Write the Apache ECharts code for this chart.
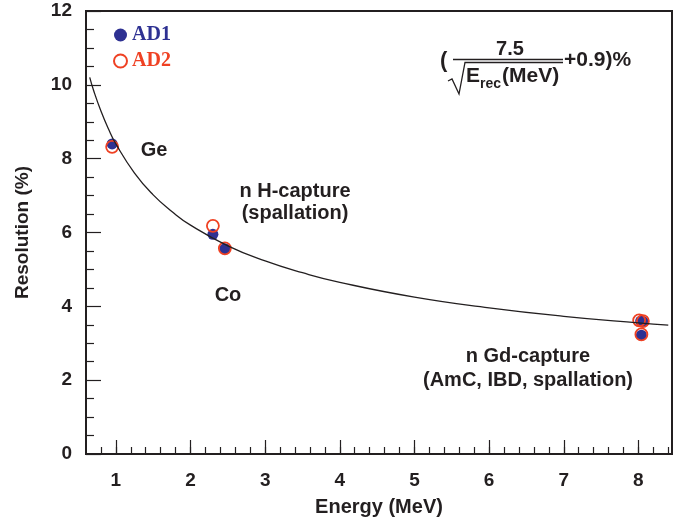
<!DOCTYPE html>
<html>
<head>
<meta charset="utf-8">
<script src="https://cdn.jsdelivr.net/npm/echarts@6/dist/echarts.min.js"></script>
<style>
  html, body { margin: 0; padding: 0; background: #fff; }
  #chart { width: 680px; height: 523px; }
</style>
</head>
<body>
<div id="chart"></div>
<script>
const ad1Energy = [0.95, 2.30, 2.46, 8.03, 8.06, 8.04];
const ad1Res = [8.40, 5.95, 5.56, 3.60, 3.59, 3.22];
const ad2Energy = [0.95, 2.30, 2.46, 8.01, 8.06, 8.04];
const ad2Res = [8.32, 6.18, 5.57, 3.62, 3.60, 3.24];

// fitted curve, sampled along the drawn line
const fitEnergy = [0.65, 0.7, 0.8, 0.9, 1.0, 1.25, 1.5, 1.75, 2.0, 2.5, 3.0, 3.5, 4.0, 5.0, 6.0, 7.0, 8.0, 8.4];
const fitRes = [10.20, 9.86, 9.29, 8.81, 8.40, 7.61, 7.02, 6.57, 6.20, 5.64, 5.23, 4.91, 4.65, 4.25, 3.96, 3.73, 3.55, 3.49];

const xTickLabels = [1, 2, 3, 4, 5, 6, 7, 8];
const yTickLabels = [0, 2, 4, 6, 8, 10, 12];

const blue = '#2e3192';
const red = '#ef4123';
const ink = '#231f20';
const sans = '"Liberation Sans", Arial, sans-serif';
const serif = '"Liberation Serif", "Times New Roman", serif';

const xMinor = [];
for (let v = 0.8; v < 8.45; v += 0.2) xMinor.push(+v.toFixed(1));

const pairs = (xs, ys) => xs.map((x, i) => [x, ys[i]]);
const label = (text, x, y, size) => ({
  type: 'text', x: x, y: y,
  style: { text: text, font: 'bold ' + size + 'px ' + sans, fill: ink, align: 'center', verticalAlign: 'middle' }
});

const chart = echarts.init(document.getElementById('chart'));
chart.setOption({
  animation: false,
  grid: {
    left: 86, right: 8, top: 11, bottom: 69,
    show: true, borderColor: ink, borderWidth: 2, backgroundColor: 'transparent'
  },
  legend: {
    orient: 'vertical',
    left: 108, top: 20,
    itemWidth: 13, itemHeight: 13, itemGap: 6,
    textStyle: { fontFamily: serif, fontWeight: 'bold', fontSize: 20 },
    data: [
      { name: 'AD1', icon: 'circle', textStyle: { color: blue } },
      { name: 'AD2', icon: 'circle', textStyle: { color: red } }
    ]
  },
  xAxis: [{
    type: 'value', min: 0.6, max: 8.45,
    name: 'Energy (MeV)', nameLocation: 'middle', nameGap: 43,
    nameTextStyle: { fontFamily: sans, fontWeight: 'bold', fontSize: 20, color: ink },
    axisLine: { lineStyle: { color: ink, width: 2 } },
    axisTick: { inside: true, length: 14, lineStyle: { color: ink, width: 1.2 }, customValues: xTickLabels },
    axisLabel: { customValues: xTickLabels, margin: 17, fontFamily: sans, fontWeight: 'bold', fontSize: 19, color: ink },
    splitLine: { show: false }
  }, {
    type: 'value', min: 0.6, max: 8.45, position: 'bottom',
    axisLine: { show: false },
    axisTick: { inside: true, length: 7, lineStyle: { color: ink, width: 1.2 }, customValues: xMinor },
    axisLabel: { show: false },
    splitLine: { show: false }
  }],
  yAxis: {
    type: 'value', min: 0, max: 12, interval: 2,
    name: 'Resolution (%)', nameLocation: 'middle', nameGap: 54,
    nameTextStyle: { fontFamily: sans, fontWeight: 'bold', fontSize: 19, color: ink },
    axisLine: { lineStyle: { color: ink, width: 2 } },
    axisTick: { inside: true, length: 15, lineStyle: { color: ink, width: 1.2 } },
    minorTick: { show: true, splitNumber: 4, length: 8, lineStyle: { color: ink, width: 1.2 } },
    axisLabel: { margin: 14, fontFamily: sans, fontWeight: 'bold', fontSize: 19, color: ink,
      formatter: v => yTickLabels.includes(v) ? String(v) : '' },
    splitLine: { show: false }
  },
  series: [
    {
      name: 'fit', type: 'line', smooth: true, showSymbol: false, silent: true,
      lineStyle: { color: ink, width: 1.3 },
      data: pairs(fitEnergy, fitRes)
    },
    {
      name: 'AD1', type: 'scatter', symbol: 'circle', symbolSize: 11,
      itemStyle: { color: blue, opacity: 1 },
      data: pairs(ad1Energy, ad1Res)
    },
    {
      name: 'AD2', type: 'scatter', symbol: 'circle', symbolSize: 12,
      itemStyle: { color: 'rgba(0,0,0,0)', borderColor: red, borderWidth: 1.8, opacity: 1 },
      data: pairs(ad2Energy, ad2Res)
    }
  ],
  graphic: [
    // point labels
    label('Ge', 154, 150, 20),
    label('n H-capture', 295, 191, 20),
    label('(spallation)', 295, 213, 20),
    label('Co', 228, 295, 20),
    label('n Gd-capture', 528, 356, 20),
    label('(AmC, IBD, spallation)', 528, 380, 20),
    // fit formula
    { type: 'text', x: 440, y: 61, style: { text: '(', font: 'bold 22px ' + sans, fill: ink, verticalAlign: 'middle' } },
    label('7.5', 510, 49, 20),
    { type: 'line', shape: { x1: 453, y1: 59.5, x2: 563, y2: 59.5 }, style: { stroke: ink, lineWidth: 1.4 } },
    { type: 'polyline', shape: { points: [[448, 81], [452, 79], [459, 94], [465, 62.5], [563, 62.5]] },
      style: { stroke: ink, lineWidth: 1.3, fill: null } },
    { type: 'text', x: 466, y: 76, style: { text: 'E', font: 'bold 21px ' + sans, fill: ink, verticalAlign: 'middle' } },
    { type: 'text', x: 480, y: 84, style: { text: 'rec', font: 'bold 14px ' + sans, fill: ink, verticalAlign: 'middle' } },
    { type: 'text', x: 502, y: 76, style: { text: '(MeV)', font: 'bold 21px ' + sans, fill: ink, verticalAlign: 'middle' } },
    { type: 'text', x: 564, y: 60, style: { text: '+0.9)%', font: 'bold 21px ' + sans, fill: ink, verticalAlign: 'middle' } }
  ]
});
</script>
</body>
</html>
